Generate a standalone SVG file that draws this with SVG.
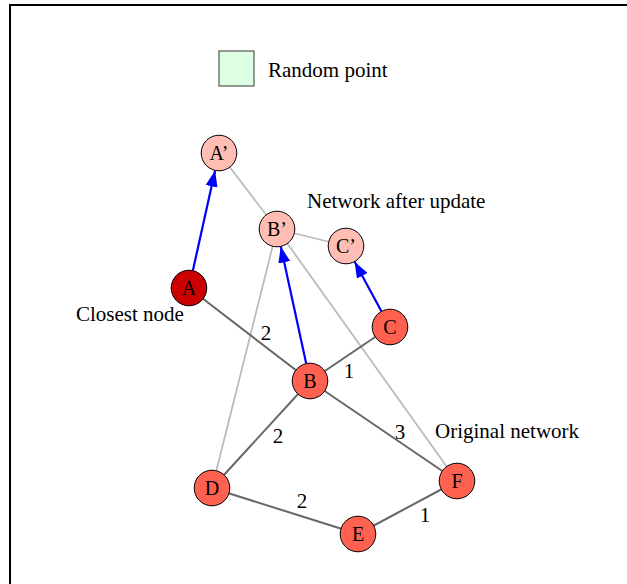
<svg xmlns="http://www.w3.org/2000/svg" width="627" height="584" viewBox="0 0 627 584">
  <style>
    text { font-family: "Liberation Serif", "Times New Roman", serif; font-size: 21px; fill: #000; }
    .lbl { text-anchor: middle; }
    .node circle { stroke: #000; stroke-width: 1; }
    .orig circle { fill: #ff6150; }
    .upd circle { fill: #ffbdb4; }
    .closest circle { fill: #cc0000; }
    .node text { text-anchor: middle; dominant-baseline: central; font-size: 20px; }
    .edge { stroke: #666; stroke-width: 2; fill: none; }
    .ghost { stroke: #bbb; stroke-width: 1.8; fill: none; }
    .move { stroke: #0000ff; stroke-width: 2.2; fill: none; marker-end: url(#head); }
  </style>
  <defs>
    <marker id="head" viewBox="0 0 16 12" refX="16" refY="6" markerWidth="16" markerHeight="12" markerUnits="userSpaceOnUse" orient="auto">
      <path d="M0,0 L16,6 L0,12 Z" fill="#0000ff"/>
    </marker>
  </defs>

  <rect width="627" height="584" fill="#fff"/>
  <!-- frame -->
  <path d="M10,600 L10,5 L640,5" fill="none" stroke="#000" stroke-width="2"/>

  <!-- legend -->
  <g id="legend">
    <rect x="219" y="51" width="35" height="35" fill="#ddffe2" stroke="#555" stroke-width="1.2"/>
    <text x="268" y="77">Random point</text>
  </g>

  <!-- connectors -->
  <g id="connectors">
    <!-- updated network -->
    <line class="ghost" x1="219" y1="153" x2="277" y2="229"/>
    <line class="ghost" x1="277" y1="229" x2="346" y2="246"/>
    <line class="ghost" x1="277" y1="229" x2="212" y2="488"/>
    <line class="ghost" x1="277" y1="229" x2="457" y2="481"/>
    <!-- original network -->
    <line class="edge" x1="189" y1="288" x2="310" y2="381"/>
    <line class="edge" x1="310" y1="381" x2="390" y2="327"/>
    <line class="edge" x1="310" y1="381" x2="212" y2="488"/>
    <line class="edge" x1="310" y1="381" x2="457" y2="481"/>
    <line class="edge" x1="212" y1="488" x2="358" y2="534"/>
    <line class="edge" x1="358" y1="534" x2="457" y2="481"/>
    <!-- node moves -->
    <line class="move" x1="192.9" y1="270.4" x2="215.1" y2="170.6"/>
    <line class="move" x1="306.2" y1="363.4" x2="280.8" y2="246.6"/>
    <line class="move" x1="381.4" y1="311.2" x2="354.6" y2="261.8"/>
    <!-- weights -->
    <text class="lbl" x="266" y="340">2</text>
    <text class="lbl" x="349" y="378">1</text>
    <text class="lbl" x="278" y="443">2</text>
    <text class="lbl" x="400" y="439">3</text>
    <text class="lbl" x="302" y="508">2</text>
    <text class="lbl" x="425" y="522">1</text>
  </g>

  <!-- nodes -->
  <g id="A2" class="node upd"><circle cx="219" cy="153" r="17.8"/><text x="219" y="153">A’</text></g>
  <g id="B2" class="node upd"><circle cx="277" cy="229" r="17.8"/><text x="277" y="229">B’</text></g>
  <g id="C2" class="node upd"><circle cx="346" cy="246" r="17.8"/><text x="346" y="246">C’</text></g>
  <g id="A" class="node closest"><circle cx="189" cy="288" r="17.8"/><text x="189" y="288">A</text></g>
  <g id="B" class="node orig"><circle cx="310" cy="381" r="17.8"/><text x="310" y="381">B</text></g>
  <g id="C" class="node orig"><circle cx="390" cy="327" r="17.8"/><text x="390" y="327">C</text></g>
  <g id="D" class="node orig"><circle cx="212" cy="488" r="17.8"/><text x="212" y="488">D</text></g>
  <g id="E" class="node orig"><circle cx="358" cy="534" r="17.8"/><text x="358" y="534">E</text></g>
  <g id="F" class="node orig"><circle cx="457" cy="481" r="17.8"/><text x="457" y="481">F</text></g>

  <!-- annotations -->
  <text x="76" y="321">Closest node</text>
  <text x="307" y="208">Network after update</text>
  <text x="435" y="438">Original network</text>
</svg>
